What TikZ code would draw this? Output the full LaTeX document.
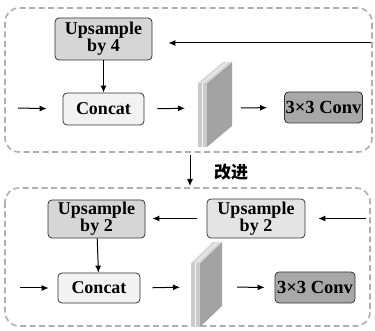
\documentclass[tikz,border=0pt]{standalone}
\usepackage{fontspec}
\setmainfont{Liberation Serif}
\newfontfamily\cjk{Noto Sans CJK SC}
\usetikzlibrary{arrows.meta}
\definecolor{upfill}{HTML}{D6D6D6}
\definecolor{uplight}{HTML}{E4E4E4}
\definecolor{catfill}{HTML}{F2F2F2}
\definecolor{convfill}{HTML}{A8A8A8}
\definecolor{slabfront}{HTML}{CACACA}
\definecolor{slabside}{HTML}{A3A3A3}
\definecolor{slabtop}{HTML}{D8D8D8}
\definecolor{framegray}{HTML}{AFAFAF}
\begin{document}
\begin{tikzpicture}[x=1pt,y=-1pt,
  box/.style={draw=black!80, line width=0.8pt, rounded corners=4pt,
    font=\bfseries\fontsize{18}{15}\selectfont, align=center, inner sep=0pt},
  convbox/.style={box, fill=convfill, font=\bfseries\fontsize{18.5}{15}\selectfont},
  arr/.style={-{Latex[length=7pt,width=6pt]}, line width=1pt},
  frame/.style={draw=framegray, line width=1.6pt, dash pattern=on 6pt off 3.5pt, rounded corners=14pt},
  slab/.pic={
    \fill[slabside] (9,0) -- (#1,-21) -- (#1,43) -- (9,64) -- cycle;
    \fill[slabtop] (0,0) -- (9,0) -- (#1,-21) -- (#1-9,-21) -- cycle;
    \fill[slabfront] (0,0) rectangle (9,64);
    \draw[white!85!slabfront, line width=0.7pt] (4.5,0) -- (4.5,64);
    \draw[white!85!slabtop, line width=0.6pt] (4.5,0) -- (#1-4.5,-21);
  }]
\useasboundingbox (0,0) rectangle (375,331);

% upper block
\draw[frame] (5,8) rectangle (372,152);
\node[box, fill=upfill, minimum width=97pt, minimum height=42pt] (up4) at (103.5,39) {Upsample\\by 4};
\node[box, fill=catfill, minimum width=81pt, minimum height=32pt] (cat1) at (103.5,109) {Concat};
\node[convbox, minimum width=78pt, minimum height=31pt] (conv1) at (323.5,107.5) {3\texttimes3 Conv};
\pic at (198,83) {slab=34};
\coordinate (s1in) at (198,108);
\coordinate (s1out) at (232,108);
\coordinate (in1) at (18,108);
\coordinate (side1) at (371,43);
\draw[arr, shorten >=16pt] (side1) -- (side1 -| up4.east);
\draw[arr] (up4) -- (cat1);
\draw[arr, shorten >=16pt] (in1) -- (cat1.west);
\draw[arr, shorten <=13pt, shorten >=13pt] (cat1.east) -- (s1in);
\draw[arr, shorten <=9pt, shorten >=17pt] (s1out) -- (conv1.west);

% transition
\coordinate (t0) at (190,155);
\coordinate (t1) at (190,186);
\draw[arr] (t0) -- (t1);
\node[font=\cjk\bfseries\fontsize{17}{17}\selectfont] (imp) at (231,172) {改进};

% lower block
\draw[frame] (5,188) rectangle (370,326);
\node[box, fill=upfill, minimum width=97pt, minimum height=38pt] (up2a) at (96.5,219) {Upsample\\by 2};
\node[box, fill=uplight, minimum width=98pt, minimum height=39pt] (up2b) at (256,218.5) {Upsample\\by 2};
\node[box, fill=catfill, minimum width=82pt, minimum height=30pt] (cat2) at (99,288) {Concat};
\node[convbox, minimum width=80pt, minimum height=31pt] (conv2) at (315,287.5) {3\texttimes3 Conv};
\pic at (191,263) {slab=31};
\coordinate (s2in) at (191,287);
\coordinate (s2out) at (222,287);
\coordinate (in2) at (20,288);
\coordinate (side2) at (366,218.5);
\draw[arr, shorten >=13pt] (side2) -- (up2b.east);
\draw[arr, shorten <=10pt, shorten >=7pt] (up2b.west) -- (up2a.east |- up2b.west);
\draw[arr] (up2a) -- (cat2);
\draw[arr, shorten >=9pt] (in2) -- (cat2.west);
\draw[arr, shorten <=12pt, shorten >=11pt] (cat2.east) -- (s2in);
\draw[arr, shorten <=15pt, shorten >=10pt] (s2out) -- (conv2.west);
\end{tikzpicture}
\end{document}
